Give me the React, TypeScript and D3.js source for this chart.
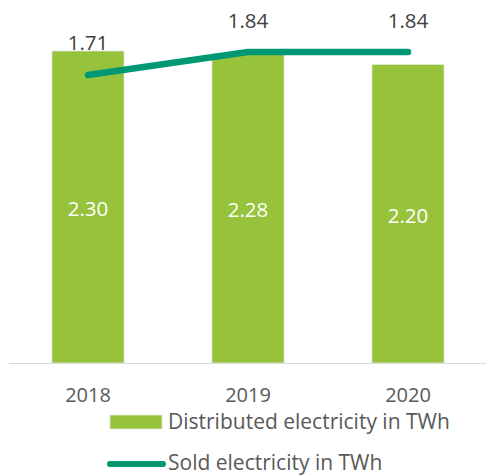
import React from "react";
import * as d3 from "d3";

const years = ["2018", "2019", "2020"];
const distributed = [2.3, 2.28, 2.2];
const sold = [1.71, 1.84, 1.84];
const distributedLabels = ["2.30", "2.28", "2.20"];
const soldLabels = ["1.71", "1.84", "1.84"];
const legendNames = ["Distributed electricity in TWh", "Sold electricity in TWh"];

const W = 486;
const H = 475;
const font = "'Open Sans', 'DejaVu Sans', sans-serif";
const barColor = "#97C33C";
const lineColor = "#009774";
const textColor = "#595959";

export default function App() {
  const x = d3.scaleBand<string>().domain(years).range([8, 488]).paddingInner(0.55).paddingOuter(0.275);
  const y = d3.scaleLinear().domain([0, 2.3]).range([363, 51]);
  const y2 = d3.scaleLinear().domain([1.71, 1.84]).range([75, 52]);
  const cx = (d: string) => (x(d) as number) + x.bandwidth() / 2;
  const line = d3
    .line<number>()
    .x((_, i) => cx(years[i]))
    .y((d) => y2(d));

  return (
    <svg
      width={W}
      height={H}
      style={{ position: "absolute", left: 0, top: 0, background: "#fff" }}
      fontFamily={font}
    >
      {years.map((yr, i) => (
        <rect
          key={yr}
          x={x(yr)}
          y={y(distributed[i])}
          width={x.bandwidth()}
          height={y(0) - y(distributed[i])}
          fill={barColor}
          stroke="#dfe8cf"
          strokeWidth={0.8}
        />
      ))}
      <line x1={9} x2={486} y1={363.5} y2={363.5} stroke="#d9d9d9" strokeWidth={1.2} />
      {years.map((yr, i) => (
        <text
          key={"v" + yr}
          x={cx(yr)}
          y={(y(distributed[i]) + y(0)) / 2 + 9}
          textAnchor="middle"
          fontSize={20.5}
          fill="#fff"
        >
          {distributedLabels[i]}
        </text>
      ))}
      <path
        d={line(sold) || ""}
        fill="none"
        stroke={lineColor}
        strokeWidth={6.5}
        strokeLinecap="round"
        strokeLinejoin="round"
      />
      {years.map((yr, i) => (
        <text
          key={"s" + yr}
          x={cx(yr)}
          y={y2(sold[i]) - (i === 0 ? 25 : 24)}
          textAnchor="middle"
          fontSize={20.5}
          fill="#404040"
        >
          {soldLabels[i]}
        </text>
      ))}
      {years.map((yr) => (
        <text key={"t" + yr} x={cx(yr)} y={401.5} textAnchor="middle" fontSize={20} fill={textColor}>
          {yr}
        </text>
      ))}
      <rect x={110} y={415} width={52} height={14} fill={barColor} stroke="#dfe8cf" strokeWidth={0.8} />
      <text x={168} y={429} fontSize={21} fill={textColor}>
        {legendNames[0]}
      </text>
      <line x1={110} x2={163} y1={464} y2={464} stroke={lineColor} strokeWidth={6} strokeLinecap="round" />
      <text x={168} y={469.5} fontSize={21} fill={textColor}>
        {legendNames[1]}
      </text>
    </svg>
  );
}
